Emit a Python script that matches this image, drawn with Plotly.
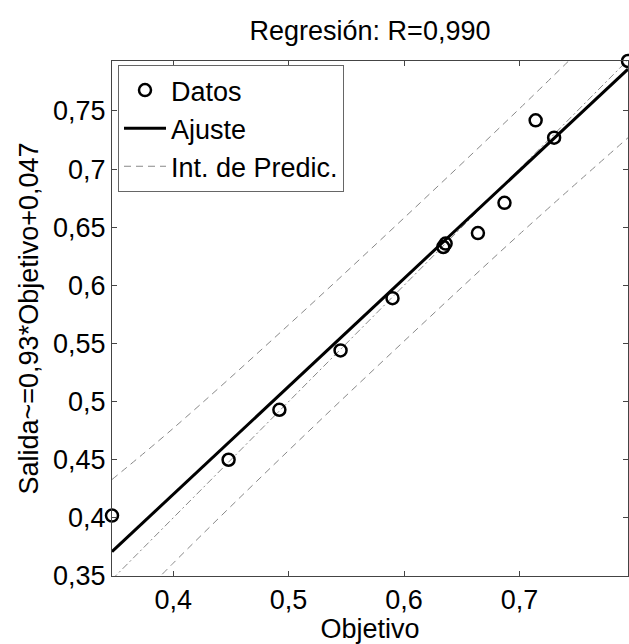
import plotly.graph_objects as go

# Data
objetivo = [0.347, 0.448, 0.492, 0.545, 0.590, 0.634, 0.636, 0.664, 0.687, 0.714, 0.730, 0.794]
salida = [0.402, 0.450, 0.493, 0.544, 0.589, 0.633, 0.636, 0.645, 0.671, 0.742, 0.727, 0.793]

fit_x = [0.347, 0.794]
fit_y = [0.371, 0.786]

ident_x = [0.347, 0.794]
ident_y = [0.347, 0.794]

band_x = [0.347, 0.40, 0.50, 0.60, 0.70, 0.794]
band_upper = [0.433, 0.477, 0.566, 0.658, 0.752, 0.843]
band_lower = [0.307, 0.361, 0.458, 0.552, 0.644, 0.727]

x_tickvals = [0.4, 0.5, 0.6, 0.7]
x_ticktext = ["0,4", "0,5", "0,6", "0,7"]
y_tickvals = [0.35, 0.40, 0.45, 0.50, 0.55, 0.60, 0.65, 0.70, 0.75]
y_ticktext = ["0,35", "0,4", "0,45", "0,5", "0,55", "0,6", "0,65", "0,7", "0,75"]

FONT = "Liberation Sans, Arial, sans-serif"
FS = 27

fig = go.Figure()

fig.add_trace(go.Scatter(x=ident_x, y=ident_y, mode="lines",
                         line=dict(color="#888888", width=1, dash="7px,3px,2px,3px"),
                         showlegend=False, hoverinfo="skip"))
fig.add_trace(go.Scatter(x=objetivo, y=salida, mode="markers", name="Datos",
                         cliponaxis=False,
                         marker=dict(symbol="circle-open", size=12, color="black",
                                     line=dict(width=2.5, color="black"))))
fig.add_trace(go.Scatter(x=fit_x, y=fit_y, mode="lines", name="Ajuste",
                         line=dict(color="black", width=3)))
fig.add_trace(go.Scatter(x=band_x, y=band_upper, mode="lines", name="Int. de Predic.",
                         line=dict(color="#888888", width=1, dash="7px,5px"), line_shape="spline"))
fig.add_trace(go.Scatter(x=band_x, y=band_lower, mode="lines", name="Int. de Predic.",
                         line=dict(color="#888888", width=1, dash="7px,5px"), line_shape="spline",
                         showlegend=False))

axis_common = dict(showline=True, linecolor="#444444", linewidth=1, mirror="ticks",
                   ticks="inside", ticklen=5, tickcolor="#444444", tickwidth=1,
                   showgrid=False, zeroline=False,
                   tickfont=dict(family=FONT, size=FS, color="black"))

fig.update_layout(
    width=629, height=644,
    margin=dict(l=112, r=1, t=61, b=68),
    paper_bgcolor="white", plot_bgcolor="white",
    font=dict(family=FONT, size=FS, color="black"),
    title=dict(text="Regresión: R=0,990", x=0.5, xref="paper", xanchor="center",
               y=1 - 31 / 644, yref="container", yanchor="middle",
               font=dict(family=FONT, size=FS, color="black")),
    xaxis=dict(range=[0.347, 0.794], tickvals=x_tickvals, ticktext=x_ticktext,
               title=dict(text="Objetivo", standoff=0, font=dict(family=FONT, size=FS)),
               **axis_common),
    yaxis=dict(range=[0.35, 0.793], tickvals=y_tickvals, ticktext=y_ticktext,
               title=dict(text="Salida~=0,93*Objetivo+0,047", standoff=6,
                          font=dict(family=FONT, size=FS)),
               **axis_common),
    legend=dict(x=6 / 516, y=1 - 4 / 515, xanchor="left", yanchor="top",
                bgcolor="white", bordercolor="#666666", borderwidth=1,
                font=dict(family=FONT, size=FS, color="black"),
                itemwidth=42, tracegroupgap=0),
    showlegend=True,
)

fig.write_html("out.html")
